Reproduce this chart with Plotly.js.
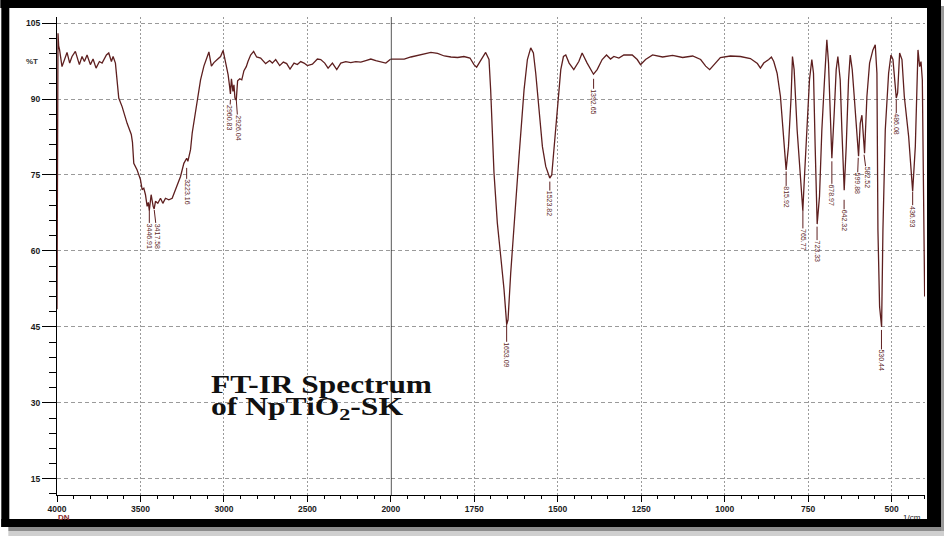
<!DOCTYPE html>
<html><head><meta charset="utf-8">
<script src="https://cdn.plot.ly/plotly-3.0.1.min.js"></script>
<style>html,body{margin:0;padding:0;background:#fff;overflow:hidden}#chart{width:944px;height:537px}</style>
</head><body><div id="chart"></div>
<script>
// ---------------- DATA ----------------
const wavenumber = [4000,3998,3996,3994,3990,3985,3970,3950,3940,3924,3910,3890,3866,3850,3836,3820,3800,3784,3766,3746,3730,3704,3690,3674,3664,3650,3640,3630,3610,3580,3555,3548,3540,3520,3500,3490,3480,3470,3460,3453,3447,3436,3424,3418,3410,3396,3380,3366,3350,3330,3310,3296,3280,3260,3240,3230,3223,3216,3200,3190,3180,3160,3140,3120,3090,3075,3060,3040,3020,3005,2995,2975,2966,2961,2955,2946,2940,2934,2926,2918,2905,2893,2880,2866,2856,2840,2822,2804,2780,2750,2726,2710,2690,2666,2644,2624,2604,2580,2560,2540,2520,2500,2470,2440,2420,2396,2376,2350,2324,2300,2270,2240,2210,2180,2150,2120,2090,2060,2030,2004,2000,1980,1960,1940,1920,1900,1880,1860,1840,1820,1800,1781,1763,1751,1743,1733,1723,1716,1706,1701,1691,1681,1671,1661,1653,1649,1641,1631,1616,1601,1591,1581,1573,1566,1556,1546,1536,1524,1518,1511,1501,1491,1483,1476,1466,1452,1437,1427,1412,1393,1382,1367,1354,1342,1332,1317,1302,1277,1262,1252,1237,1216,1186,1156,1126,1096,1072,1057,1045,1031,1013,983,953,923,902,893,883,868,860,853,843,833,823,816,809,801,797,792,783,773,766,762,754,746,739,734,729,723,716,709,701,694,689,684,679,672,666,661,654,649,642,636,629,624,618,612,604,599,594,589,586,581,574,566,556,549,544,541,536,530,526,519,509,502,496,492,486,482,476,469,462,449,441,437,429,424,421,416,412,408,404,401];
const transmittance = [48.5,75,95,103,100.5,99.8,96.4,98.1,99.2,97.1,98.4,99.4,96.8,98.4,97.4,98.7,96.8,97.9,96.1,97.4,97.1,98.7,99.1,97.4,98.4,97.1,93.8,90.2,88.5,85.2,83.0,81.5,77.3,76.0,74.1,72.1,72.4,71.1,68.8,69.6,68.0,71.1,68.8,68.3,69.8,69.4,70.4,69.4,70.4,70.1,70.4,71.7,73.0,74.7,77.3,78.0,78.3,77.7,80.0,83.3,85.5,89.9,93.8,96.5,99.3,96.5,97.2,97.8,98.4,99.6,98.0,94.8,92.5,91.0,94.0,91.5,92.8,90.2,89.8,93.6,94.0,93.8,95.6,96.4,97.4,98.7,99.4,98.3,98.1,97.0,97.6,97.1,97.8,96.6,97.3,97.0,95.9,97.1,96.8,97.4,97.1,96.6,96.9,97.9,97.8,97.1,96.1,97.1,95.8,97.1,97.4,97.2,97.4,97.3,97.6,97.9,97.6,97.4,97.1,97.8,97.9,97.9,97.9,98.3,98.6,98.9,99.2,99.0,98.5,98.3,98.2,98.4,98.1,96.8,96.3,97.4,98.4,99.2,97.8,91.8,75.4,65.5,59.0,52.4,45.5,46.4,55.6,65.5,78.7,91.8,97.8,100.1,99.1,95.1,87.2,80.6,76.7,74.4,75.0,80.0,88.5,95.8,98.4,98.7,97.1,95.8,97.4,99.1,97.1,94.9,95.8,97.8,98.7,97.9,98.4,98.1,98.7,98.7,97.8,96.8,97.8,98.7,98.3,98.6,98.2,98.5,97.8,96.5,95.8,96.8,98.2,98.5,98.4,98.0,97.0,96.1,97.1,97.8,98.3,97.4,95.1,90.5,82.6,76.0,80.6,90.5,98.4,95.8,83.9,74.1,68.0,73.4,83.9,93.8,97.8,95.1,80.6,65.3,70.8,83.9,93.8,101.7,97.1,87.2,78.3,87.2,95.8,98.4,93.8,83.9,72.0,80.6,93.8,98.7,95.8,90.5,82.0,78.7,85.2,86.8,84.0,79.3,90.5,97.1,99.7,100.7,95.1,64.2,49.0,45.0,64.2,83.9,95.1,98.7,97.8,95.1,90.2,91.2,99.1,97.8,90.5,82.6,76.0,71.8,80.6,93.8,99.7,96.4,97.4,93.8,67.8,51.0];

const peakLabels = ['3446.91','3417.58','3223.16','2960.83','2926.04','1653.09','1523.82','1392.65','815.92','765.77','723.33','678.97','642.32','599.88','582.52','530.44','486.08','436.93'];
const peakWavenumber = peakLabels.map(Number);
const peakTransmittance = [68.1,68.1,76.4,89.9,89.9,46.4,73.7,94.0,75.7,68.1,64.8,77.7,70.1,78.4,79.0,44.4,89.9,71.7];

const xTickValsHigh = [4000,3500,3000,2500];
const xTickValsLow = [2000,1750,1500,1250,1000,750,500];
const titleLines = ['FT-IR Spectrum','of NpTiO<sub>2</sub>-SK'];

// ---------------- LAYOUT ----------------
const lineColor = '#5e1f1f';
const L = 56.7, R = 925, T = 17, B = 495;
const pxX = v => (v - L) / (R - L);
const pxY = v => (B - v) / (B - T);
const split = 2000 / 5200;

// label offsets (pixels): [ax, ay]
const labelOffsets = [[0,26],[3,26],[0,24],[-1,18],[2,28],[0,35],[0,22],[0,23],[0,26],[0,30],[0,25],[0,34],[0,21],[-1,26],[3,23],[0,31],[0,25],[0,25]];

const hi = [], lo = [];
wavenumber.forEach((w, i) => { if (w >= 2000) hi.push(i); if (w <= 2000) lo.push(i); });

const traces = [
  {x: hi.map(i => wavenumber[i]), y: hi.map(i => transmittance[i]), xaxis: 'x', yaxis: 'y',
   mode: 'lines', line: {color: lineColor, width: 1.3}, hoverinfo: 'skip'},
  {x: lo.map(i => wavenumber[i]), y: lo.map(i => transmittance[i]), xaxis: 'x2', yaxis: 'y',
   mode: 'lines', line: {color: lineColor, width: 1.3}, hoverinfo: 'skip'}
];

const tickFont = {family: 'Liberation Sans, Arial, sans-serif', size: 8.5, color: '#1a1a1a', weight: 'bold'};
const xCommon = {
  ticks: 'outside', ticklen: 6, tickwidth: 1, tickcolor: '#000',
  showline: true, linecolor: '#000', linewidth: 1,
  showgrid: true, gridcolor: '#9a9a9a', gridwidth: 1, griddash: '2px,2px',
  zeroline: false, tickfont: tickFont, anchor: 'y', tickmode: 'array'
};

const annotations = [];
peakLabels.forEach((lab, i) => {
  annotations.push({
    text: lab, x: peakWavenumber[i], y: peakTransmittance[i],
    xref: peakWavenumber[i] > 2000 ? 'x' : 'x2', yref: 'y',
    showarrow: true, arrowhead: 0, arrowwidth: 1, arrowcolor: lineColor, standoff: 0,
    ax: labelOffsets[i][0], ay: labelOffsets[i][1], textangle: 90,
    font: {family: 'Liberation Sans, Arial, sans-serif', size: 7, color: lineColor},
    borderpad: 0
  });
});
const titleFont = {family: 'Liberation Serif, Times New Roman, serif', size: 25, color: '#111', weight: 'bold'};
annotations.push({text: titleLines[0], xref: 'paper', yref: 'paper', x: pxX(210), y: pxY(384),
  xanchor: 'left', yanchor: 'middle', align: 'left', showarrow: false, font: titleFont, borderpad: 0});
annotations.push({text: titleLines[1], xref: 'paper', yref: 'paper', x: pxX(210), y: pxY(408),
  xanchor: 'left', yanchor: 'middle', align: 'left', showarrow: false, font: titleFont, borderpad: 0});
annotations.push({text: '<b>%T</b>', xref: 'paper', yref: 'paper', x: pxX(32), y: pxY(61),
  xanchor: 'center', yanchor: 'middle', showarrow: false, font: {family: 'Liberation Sans, Arial, sans-serif', size: 8, color: '#333'}});
annotations.push({text: '<b>DN</b>', xref: 'paper', yref: 'paper', x: pxX(64), y: pxY(517),
  xanchor: 'center', yanchor: 'middle', showarrow: false, font: {family: 'Liberation Sans, Arial, sans-serif', size: 8, color: '#8a2a2a'}});
annotations.push({text: '1/cm', xref: 'paper', yref: 'paper', x: pxX(912), y: pxY(517),
  xanchor: 'center', yanchor: 'middle', showarrow: false, font: {family: 'Liberation Sans, Arial, sans-serif', size: 8, color: '#111'}});

function rectPx(x0, y0, x1, y1, color) {
  return {type: 'rect', xref: 'paper', yref: 'paper', x0: pxX(x0), x1: pxX(x1), y0: pxY(y1), y1: pxY(y0),
    fillcolor: color, line: {width: 0}, layer: 'above'};
}
const shapes = [
  {type: 'line', xref: 'x2', yref: 'paper', x0: 2000, x1: 2000, y0: 0, y1: 1, line: {color: '#2a2a2a', width: 1.6}, layer: 'above'},
  rectPx(8, 527, 944, 531, '#8c8c8c'),
  rectPx(8, 531, 944, 536, '#cfcfcf'),
  rectPx(941, 6, 944, 531, '#9a9a9a'),
  rectPx(0, 0, 941, 8, '#000'),
  rectPx(1, 0, 9, 527, '#000'),
  rectPx(927, 0, 941, 527, '#000'),
  rectPx(1, 519, 941, 527, '#000')
];

const layout = {
  width: 944, height: 537,
  margin: {l: L, r: 944 - R, t: T, b: 537 - B, pad: 0, autoexpand: false},
  paper_bgcolor: '#fff', plot_bgcolor: '#fff', showlegend: false,
  xaxis: Object.assign({}, xCommon, {domain: [0, split], range: [4000, 2000], tickvals: xTickValsHigh,
    minor: {dtick: 100, tick0: 0, ticks: 'outside', ticklen: 3, tickcolor: '#000', showgrid: false}}),
  xaxis2: Object.assign({}, xCommon, {domain: [split, 1], range: [2000, 400], tickvals: xTickValsLow,
    minor: {dtick: 50, tick0: 0, ticks: 'outside', ticklen: 3, tickcolor: '#000', showgrid: false}}),
  yaxis: {range: [11.8, 106.2], tickmode: 'linear', tick0: 0, dtick: 15, ticks: 'outside', ticklen: 14,
    tickcolor: '#000', tickwidth: 1, showline: true, linecolor: '#000', linewidth: 1,
    showgrid: true, gridcolor: '#9a9a9a', gridwidth: 1, griddash: '4px,3px', zeroline: false,
    tickfont: tickFont, anchor: 'x',
    minor: {dtick: 3, tick0: 0, ticks: 'outside', ticklen: 7, tickcolor: '#000', showgrid: false}},
  annotations: annotations, shapes: shapes
};

Plotly.newPlot('chart', traces, layout, {staticPlot: true, displayModeBar: false}).then(gd => {
  const widths = {'FT-IR': 221, 'of Np': 192};
  gd.querySelectorAll('text.annotation-text').forEach(t => {
    const s = t.textContent;
    Object.keys(widths).forEach(k => {
      if (s.indexOf(k) === 0) {
        t.setAttribute('textLength', widths[k]);
        t.setAttribute('lengthAdjust', 'spacingAndGlyphs');
      }
    });
  });
});
</script></body></html>
